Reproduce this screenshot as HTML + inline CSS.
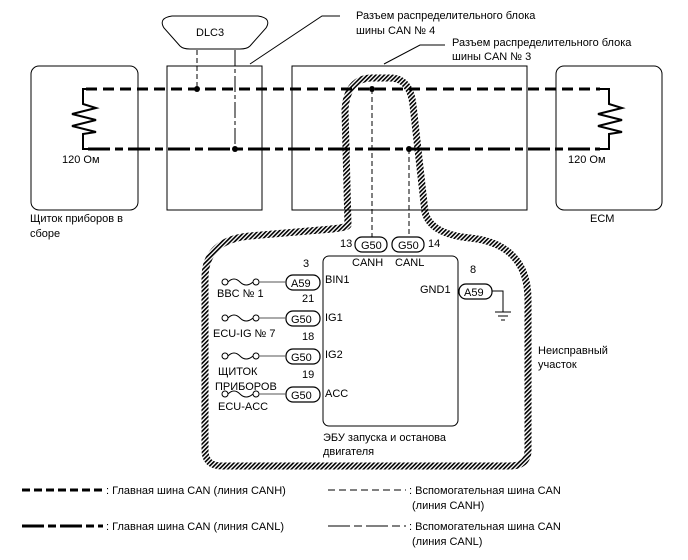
<!DOCTYPE html>
<html><head><meta charset="utf-8"><style>
body{margin:0;background:#fff}
svg{display:block}
text{font-family:"Liberation Sans",Arial,sans-serif;font-size:11px;fill:#000}
</style></head><body>
<svg width="688" height="560" viewBox="0 0 688 560" xmlns="http://www.w3.org/2000/svg">
<defs>
<pattern id="h" width="3" height="3" patternUnits="userSpaceOnUse" patternTransform="rotate(45)">
<rect width="1.6" height="3" fill="#000"/>
</pattern>
</defs>
<!-- hatched fault area -->
<path d="M348,225 L345,110 Q347,78 372,78 L390,78 Q410,78 413,105 L425,212 Q430,234 470,238 Q528,244 528,300 L528,450 Q528,466 510,466 L222,466 Q205,466 205,450 L205,278 Q205,240 250,236 L320,230 Q348,228 348,225 Z" fill="none" stroke="url(#h)" stroke-width="7"/>
<g fill="none" stroke="#000" stroke-width="1">
<rect x="31" y="66" width="107" height="144" rx="8"/>
<rect x="167" y="66" width="95" height="144"/>
<rect x="292" y="66" width="235" height="144"/>
<rect x="556" y="66" width="106" height="144" rx="8"/>
<path d="M172,16 L258,16 Q272,18 266,28 L250,46 Q247,49 240,49 L190,49 Q183,49 180,46 L164,28 Q158,18 172,16 Z"/>
<path d="M250,64 L322,16 L340,16"/>
<path d="M384,64 L420,45 L445,45"/>
<rect x="323" y="256" width="135" height="170" rx="6"/>
</g>
<text x="196" y="36">DLC3</text>
<text x="356" y="19">Разъем распределительного блока</text>
<text x="356" y="34">шины CAN № 4</text>
<text x="452" y="46">Разъем распределительного блока</text>
<text x="452" y="60">шины CAN № 3</text>
<!-- resistors -->
<g fill="none" stroke="#000" stroke-width="2">
<path d="M86,89 L83,89 L83,104 L96,108 L72,114 L96,120 L72,126 L96,132 L83,134 L83,149 L88,149"/>
<path d="M600,89 L609,89 L609,104 L622,108 L598,114 L622,120 L598,126 L622,132 L609,134 L609,149 L600,149"/>
</g>
<!-- CAN lines -->
<path d="M86,89 L600,89" stroke="#000" stroke-width="3" stroke-dasharray="11,6" fill="none"/>
<path d="M88,149 L600,149" stroke="#000" stroke-width="3" stroke-dasharray="22,5,8,5" fill="none"/>
<g stroke="#000" stroke-width="1" fill="none">
<path d="M197,50 L197,89" stroke-dasharray="5,3"/>
<path d="M235,50 L235,149" stroke-dasharray="16,3,4,3"/>
<path d="M372,89 L372,237" stroke-dasharray="5,3"/>
<path d="M409,149 L409,237" stroke-dasharray="5,3"/>
</g>
<g fill="#000"><circle cx="197" cy="89" r="3"/><circle cx="235" cy="149" r="3"/><circle cx="372" cy="89" r="3"/><circle cx="409" cy="149" r="3"/></g>
<text x="62" y="163">120 Ом</text>
<text x="568" y="163">120 Ом</text>
<text x="30" y="222">Щиток приборов в</text>
<text x="30" y="237">сборе</text>
<text x="590" y="222">ECM</text>
<!-- connectors -->
<g fill="#fff" stroke="#000" stroke-width="1.2">
<rect x="355" y="237" width="32" height="15" rx="7"/>
<rect x="392" y="237" width="32" height="15" rx="7"/>
<rect x="286" y="275" width="34" height="15" rx="7"/>
<rect x="286" y="311" width="34" height="15" rx="7"/>
<rect x="286" y="349" width="34" height="15" rx="7"/>
<rect x="286" y="387" width="34" height="15" rx="7"/>
<rect x="459" y="284" width="33" height="15" rx="7"/>
</g>
<text x="361" y="249">G50</text><text x="398" y="249">G50</text>
<text x="291" y="287">A59</text><text x="291" y="323">G50</text><text x="291" y="361">G50</text><text x="291" y="399">G50</text>
<text x="464" y="296">A59</text>
<text x="340" y="247">13</text><text x="428" y="247">14</text>
<text x="352" y="266">CANH</text><text x="395" y="266">CANL</text>
<text x="325" y="283">BIN1</text><text x="325" y="321">IG1</text><text x="325" y="358">IG2</text><text x="325" y="397">ACC</text>
<text x="303" y="267">3</text><text x="302" y="302">21</text><text x="302" y="340">18</text><text x="302" y="378">19</text>
<text x="420" y="293">GND1</text><text x="470" y="273">8</text>
<!-- fuses -->
<g fill="none" stroke="#000" stroke-width="1">
<g id="f"><circle cx="225" cy="282" r="3"/><circle cx="256" cy="282" r="3"/><path d="M228,282 Q234,276 240,282 Q246,288 253,282"/><path d="M259,282 L286,282" stroke="#555"/></g>
<use href="#f" y="36"/><use href="#f" y="74"/><use href="#f" y="112"/>
<path d="M492,291 L503,291 L503,312 M495,312 L511,312 M498,316 L508,316 M501,320 L505,320"/>
</g>
<text x="217" y="297">BBC № 1</text>
<text x="213" y="337">ECU-IG № 7</text>
<text x="218" y="375">ЩИТОК</text>
<text x="215" y="390">ПРИБОРОВ</text>
<text x="218" y="410">ECU-ACC</text>
<text x="323" y="441">ЭБУ запуска и останова</text>
<text x="323" y="455">двигателя</text>
<text x="538" y="354">Неисправный</text>
<text x="538" y="368">участок</text>
<!-- legend -->
<path d="M22,490 L103,490" stroke="#000" stroke-width="3" stroke-dasharray="8,4" fill="none"/>
<text x="106" y="494">: Главная шина CAN (линия CANH)</text>
<path d="M328,490 L406,490" stroke="#000" stroke-width="1" stroke-dasharray="7,4" fill="none"/>
<text x="409" y="494">: Вспомогательная шина CAN</text>
<text x="412" y="509">(линия CANH)</text>
<path d="M22,526 L103,526" stroke="#000" stroke-width="3" stroke-dasharray="22,4,8,4" fill="none"/>
<text x="106" y="530">: Главная шина CAN (линия CANL)</text>
<path d="M328,526 L406,526" stroke="#000" stroke-width="1" stroke-dasharray="22,4,8,4" fill="none"/>
<text x="409" y="530">: Вспомогательная шина CAN</text>
<text x="412" y="545">(линия CANL)</text>
</svg>
</body></html>
